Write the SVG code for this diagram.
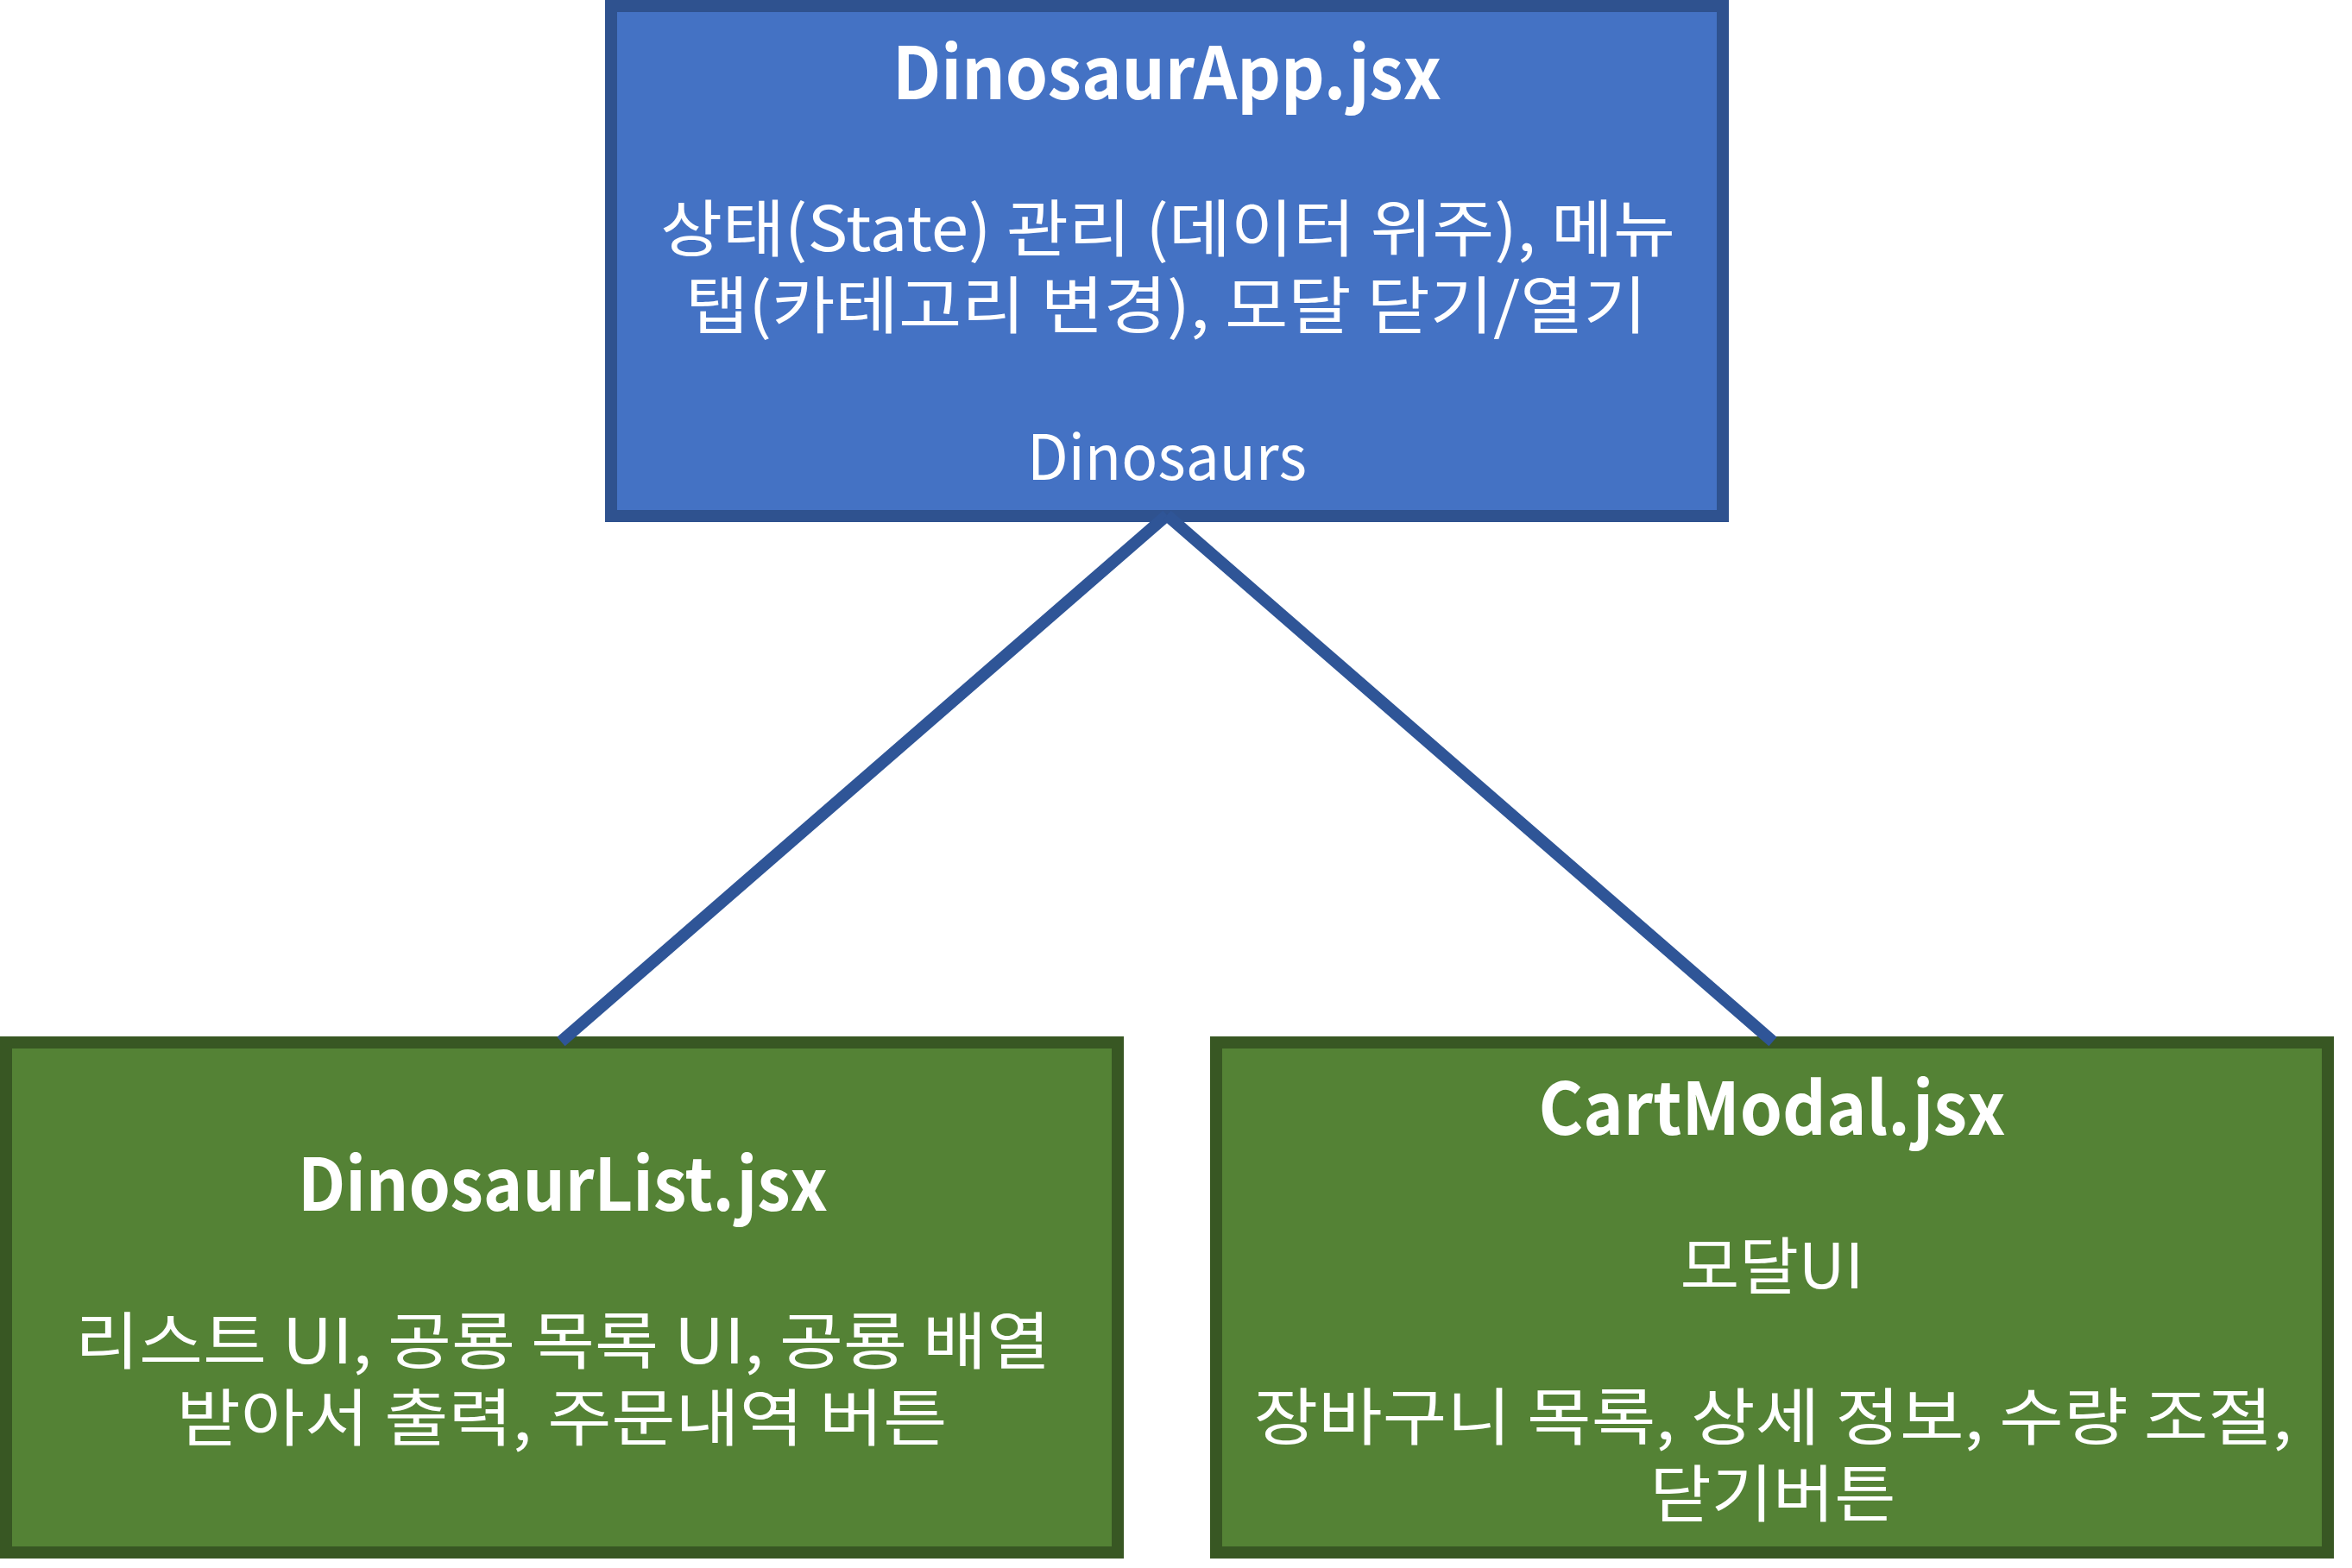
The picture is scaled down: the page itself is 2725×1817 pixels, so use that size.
<svg xmlns="http://www.w3.org/2000/svg" width="2725" height="1817" viewBox="0 0 2725 1817">
<style>
.blue{fill:#4472C4;stroke:#2F528F;stroke-width:14}
.green{fill:#548235;stroke:#385723;stroke-width:14}
text{font-family:"Noto Sans CJK KR","Noto Sans",sans-serif;fill:#FFFFFF;text-anchor:middle}
.t{font-size:84px;font-weight:bold}
.b{font-size:72px}
.c{stroke:#2F5597;stroke-width:14;fill:none}
</style>
<rect width="2725" height="1817" fill="#FFFFFF"/>
<g id="node-app">
<rect class="blue" x="708" y="7" width="1288" height="591"/>
<text class="t" x="1352" y="115" textLength="636" lengthAdjust="spacingAndGlyphs">DinosaurApp.jsx</text>
<text class="b"><tspan x="1353" y="291" textLength="1176" lengthAdjust="spacingAndGlyphs">상태(State) 관리 (데이터 위주), 메뉴</tspan><tspan x="1351" y="380" textLength="1114" lengthAdjust="spacingAndGlyphs">탭(카테고리 변경), 모달 닫기/열기</tspan><tspan x="1352" y="556" textLength="324" lengthAdjust="spacingAndGlyphs">Dinosaurs</tspan></text>
</g>
<g id="node-list">
<rect class="green" x="7" y="1208" width="1288" height="591"/>
<text class="t" x="652" y="1403" textLength="614" lengthAdjust="spacingAndGlyphs">DinosaurList.jsx</text>
<text class="b"><tspan x="652" y="1580" textLength="1130" lengthAdjust="spacingAndGlyphs">리스트 UI, 공룡 목록 UI, 공룡 배열</tspan><tspan x="651" y="1669" textLength="893" lengthAdjust="spacingAndGlyphs">받아서 출력, 주문내역 버튼</tspan></text>
</g>
<g id="node-cart">
<rect class="green" x="1409" y="1208" width="1288" height="591"/>
<text class="t" x="2053" y="1315" textLength="541" lengthAdjust="spacingAndGlyphs">CartModal.jsx</text>
<text class="b"><tspan x="2053" y="1493" textLength="213" lengthAdjust="spacingAndGlyphs">모달UI</tspan><tspan x="2054" y="1668" textLength="1203" lengthAdjust="spacingAndGlyphs">장바구니 목록, 상세 정보, 수량 조절,</tspan><tspan x="2054" y="1757" textLength="285" lengthAdjust="spacingAndGlyphs">닫기버튼</tspan></text>
</g>
<g id="connectors">
<line class="c" x1="1352" y1="597" x2="650" y2="1207"/>
<line class="c" x1="1352" y1="597" x2="2054" y2="1207"/>
</g>
</svg>
